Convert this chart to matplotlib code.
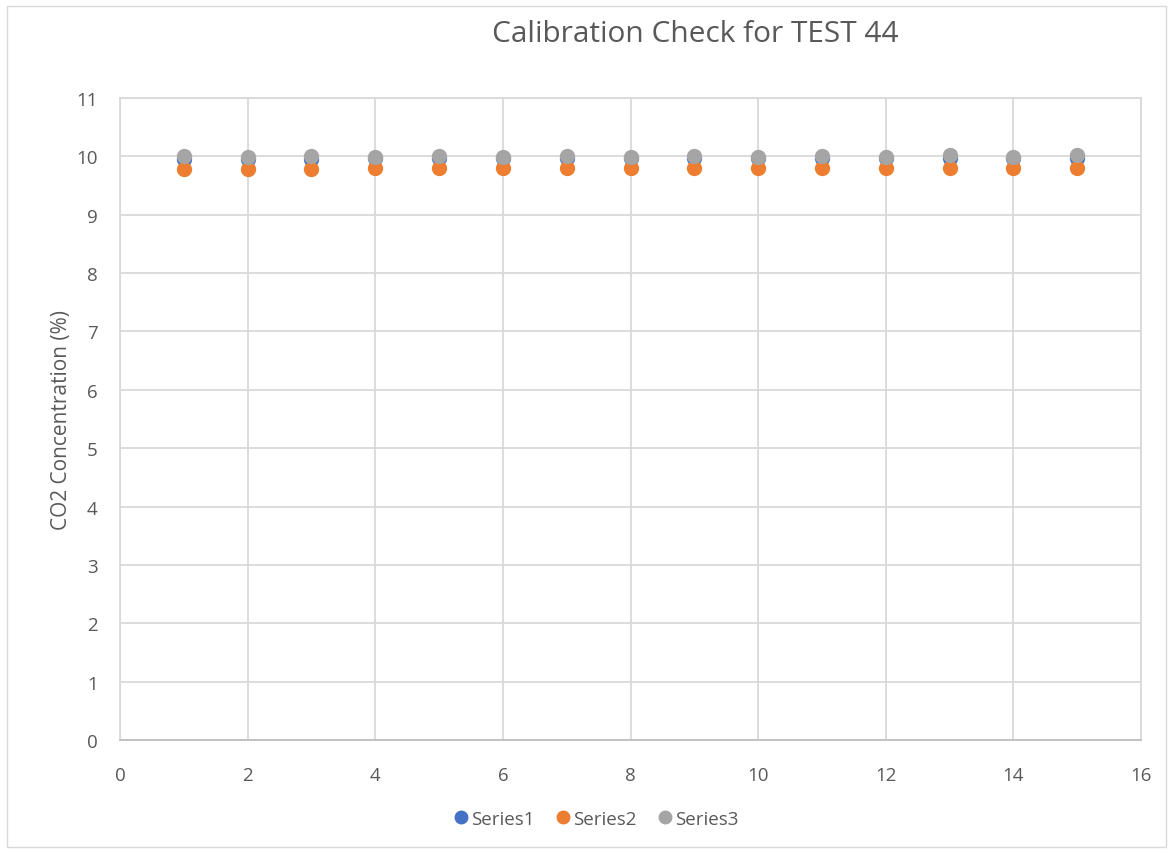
import matplotlib.pyplot as plt
from matplotlib.patches import Rectangle

# Readings per run
runs = list(range(1, 16))
series1 = [9.96, 9.95, 9.96, 9.97, 9.97, 9.97, 9.97, 9.97, 9.97, 9.97, 9.97, 9.97, 9.98, 9.97, 9.97]
series2 = [9.78, 9.78, 9.78, 9.80, 9.80, 9.80, 9.80, 9.80, 9.80, 9.80, 9.80, 9.80, 9.80, 9.80, 9.80]
series3 = [10.00, 9.99, 10.00, 9.99, 10.00, 9.99, 10.00, 9.99, 10.00, 9.99, 10.00, 9.99, 10.03, 9.99, 10.02]
names = ['Series1', 'Series2', 'Series3']
colors = ['#4472C4', '#ED7D31', '#A5A5A5']

plt.rcParams['font.family'] = ['Open Sans', 'DejaVu Sans']
text_color = '#595959'
grid_color = '#D9D9D9'

W, H = 1173, 854
fig = plt.figure(figsize=(W / 100, H / 100), dpi=100)
fig.patch.set_facecolor('white')

# chart border
fig.add_artist(Rectangle((7 / W, 1 - 848 / H), (1166 - 7) / W, (848 - 7) / H,
                         transform=fig.transFigure, fill=False, ec=grid_color, lw=1))

left, right, top, bottom = 120, 1141, 99, 741
ax = fig.add_axes([left / W, 1 - bottom / H, (right - left) / W, (bottom - top) / H])

for ys, name, c in zip([series1, series2, series3], names, colors):
    ax.plot(runs, ys, 'o', color=c, markersize=10, label=name, zorder=3)

ax.set_xlim(0, 16)
ax.set_ylim(0, 11)
ax.set_xticks(range(0, 17, 2))
ax.set_yticks(range(0, 12))
ax.grid(True, color=grid_color, lw=1.3)
ax.set_axisbelow(True)
for s in ax.spines.values():
    s.set_color(grid_color)
    s.set_linewidth(1.3)
ax.spines['bottom'].set_color('#BFBFBF')
ax.tick_params(length=0, labelsize=13.5, colors=text_color)
ax.tick_params(axis='y', pad=16)
ax.tick_params(axis='x', pad=19)

ax.set_ylabel('CO2 Concentration (%)', fontsize=15, color=text_color, labelpad=3)

fig.text(695 / W, 1 - 35 / H, 'Calibration Check for TEST 44', ha='center', va='center',
         fontsize=21.5, color=text_color)

leg = fig.legend(loc='center', bbox_to_anchor=(595 / W, 1 - 820 / H), ncol=3, frameon=False,
                 fontsize=13.5, handletextpad=0.05, columnspacing=1.0, markerscale=0.9,
                 handlelength=1.0)
for t in leg.get_texts():
    t.set_color(text_color)

fig.savefig('out.png', dpi=100)
